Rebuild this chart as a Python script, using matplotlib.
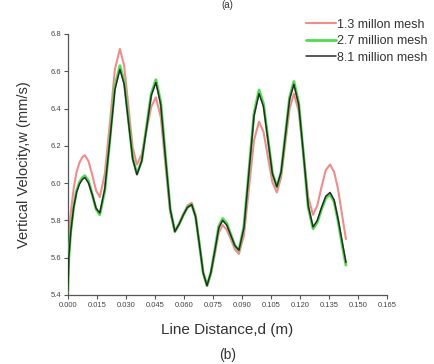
import matplotlib
matplotlib.use("Agg")
import matplotlib.pyplot as plt
from matplotlib.ticker import FormatStrFormatter

plt.rcParams['font.family'] = ['Liberation Sans', 'DejaVu Sans']

# Sampling positions along the line (m)
distance = [
    0.0000, 0.0005, 0.0015, 0.0030, 0.0045, 0.0060, 0.0075, 0.0088,
    0.0107, 0.0127, 0.0146, 0.0165,
    0.0191, 0.0217, 0.0243, 0.0269,
    0.0291, 0.0313, 0.0335, 0.0357,
    0.0382, 0.0406, 0.0431, 0.0455,
    0.0480, 0.0504, 0.0529, 0.0553,
    0.0575, 0.0597, 0.0618, 0.0640,
    0.0660, 0.0680, 0.0699, 0.0719,
    0.0739, 0.0760, 0.0780, 0.0800,
    0.0821, 0.0842, 0.0863, 0.0884,
    0.0910, 0.0936, 0.0962, 0.0988,
    0.1011, 0.1034, 0.1057, 0.1080,
    0.1102, 0.1124, 0.1146, 0.1168,
    0.1193, 0.1218, 0.1242, 0.1267,
    0.1289, 0.1311, 0.1333, 0.1355,
    0.1376, 0.1396, 0.1417, 0.1437,
]

# Vertical velocity w (mm/s) for each mesh
mesh_1_3M = [
    5.63, 5.72, 5.84, 5.97, 6.06, 6.11, 6.14, 6.15,
    6.117, 6.04, 5.96, 5.925,
    6.05, 6.32, 6.61, 6.72,
    6.63, 6.41, 6.19, 6.10,
    6.155, 6.28, 6.41, 6.46,
    6.355, 6.10, 5.845, 5.74,
    5.785, 5.835, 5.88, 5.895,
    5.83, 5.67, 5.52, 5.45,
    5.51, 5.62, 5.735, 5.775,
    5.75, 5.70, 5.645, 5.62,
    5.72, 5.975, 6.23, 6.33,
    6.275, 6.14, 6.005, 5.95,
    6.03, 6.215, 6.40, 6.48,
    6.385, 6.155, 5.925, 5.83,
    5.88, 5.98, 6.07, 6.10,
    6.06, 5.97, 5.83, 5.70,
]
mesh_2_7M = [
    5.42, 5.60, 5.74, 5.87, 5.96, 6.005, 6.03, 6.04,
    6.01, 5.935, 5.86, 5.83,
    5.96, 6.23, 6.52, 6.63,
    6.545, 6.34, 6.135, 6.05,
    6.12, 6.30, 6.48, 6.555,
    6.435, 6.15, 5.86, 5.74,
    5.78, 5.83, 5.87, 5.885,
    5.82, 5.67, 5.52, 5.45,
    5.52, 5.645, 5.77, 5.81,
    5.785, 5.725, 5.665, 5.64,
    5.77, 6.07, 6.375, 6.50,
    6.425, 6.24, 6.055, 5.98,
    6.06, 6.26, 6.46, 6.545,
    6.43, 6.15, 5.87, 5.755,
    5.79, 5.86, 5.92, 5.94,
    5.90, 5.80, 5.67, 5.56,
]
mesh_8_1M = [
    5.42, 5.60, 5.74, 5.87, 5.95, 5.995, 6.02, 6.03,
    6.00, 5.935, 5.865, 5.84,
    5.97, 6.23, 6.50, 6.61,
    6.53, 6.33, 6.13, 6.045,
    6.12, 6.29, 6.47, 6.54,
    6.42, 6.14, 5.86, 5.74,
    5.78, 5.83, 5.87, 5.885,
    5.82, 5.67, 5.52, 5.45,
    5.52, 5.64, 5.76, 5.80,
    5.775, 5.72, 5.665, 5.64,
    5.76, 6.06, 6.36, 6.48,
    6.41, 6.23, 6.05, 5.98,
    6.06, 6.255, 6.45, 6.53,
    6.42, 6.15, 5.88, 5.765,
    5.80, 5.87, 5.93, 5.95,
    5.91, 5.81, 5.69, 5.575,
]

labels = ["1.3 millon mesh", "2.7 million mesh", "8.1 million mesh"]
x_ticks = [0.000, 0.015, 0.030, 0.045, 0.060, 0.075, 0.090, 0.105,
           0.120, 0.135, 0.150, 0.165]
y_ticks = [5.4, 5.6, 5.8, 6.0, 6.2, 6.4, 6.6, 6.8]

fig = plt.figure(figsize=(4.35, 3.64), dpi=100)
ax = fig.add_axes([0.156, 0.1896, 0.734, 0.717])

line_kw = dict(solid_joinstyle='round', solid_capstyle='round')
ax.plot(distance, mesh_1_3M, color='#f08c8c', lw=1.5, label=labels[0], zorder=2, **line_kw)
ax.plot(distance, mesh_2_7M, color='#4fdc4f', lw=2.0, label=labels[1], zorder=3, **line_kw)
ax.plot(distance, mesh_8_1M, color='#2a2a2a', lw=1.1, label=labels[2], zorder=4, **line_kw)

ax.set_xlim(0, 0.165)
ax.set_ylim(5.4, 6.8)
ax.set_xticks(x_ticks)
ax.set_yticks(y_ticks)
ax.xaxis.set_major_formatter(FormatStrFormatter('%.3f'))
ax.yaxis.set_major_formatter(FormatStrFormatter('%.1f'))

for s in ('top', 'right'):
    ax.spines[s].set_visible(False)
for s in ('left', 'bottom'):
    ax.spines[s].set_color('#555555')
    ax.spines[s].set_linewidth(0.9)
ax.tick_params(axis='both', direction='out', length=3, width=0.8,
               color='#555555', labelsize=5.5, labelcolor='#444444', pad=2)

ax.set_xlabel('Line Distance,d (m)', fontsize=11, color='#333333', labelpad=10)
ax.set_ylabel('Vertical Velocity,w (mm/s)', fontsize=10.5, color='#333333', labelpad=14)

leg = fig.legend(loc='upper right', bbox_to_anchor=(0.995, 0.962), frameon=False,
                 fontsize=9, handlelength=2.4, handletextpad=0.1, labelspacing=0.36,
                 borderaxespad=0)
for t in leg.get_texts():
    t.set_color('#333333')

fig.text(0.523, 0.005, '(b)', ha='center', va='bottom', fontsize=10, color='#333333')
fig.text(0.523, 0.999, '(a)', ha='center', va='top', fontsize=7, color='#333333')

fig.savefig('out.png', dpi=100, facecolor='white')
